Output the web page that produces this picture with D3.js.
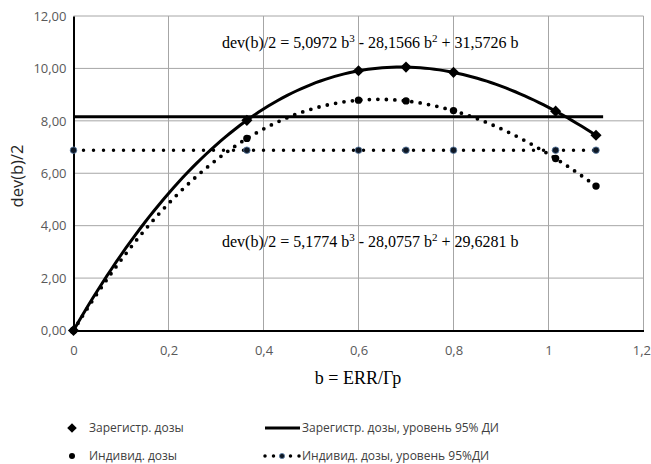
<!DOCTYPE html>
<html>
<head>
<meta charset="utf-8">
<script src="https://cdnjs.cloudflare.com/ajax/libs/d3/7.8.5/d3.min.js"></script>
<style>
  body { margin: 0; background: #fff; }
  .tick text { font-family: "Open Sans", sans-serif; font-size: 13px; fill: #595959; }
  .eq { font-family: "Liberation Serif", "Times New Roman", serif; font-size: 16px; fill: #000; }
  .legend text { font-family: "Open Sans", sans-serif; font-size: 12px; fill: #404040; }
</style>
</head>
<body>
<svg id="chart" width="651" height="464"></svg>
<script>
// doses, b = ERR/Gy
var bValues = [0, 0.365, 0.6, 0.7, 0.8, 1.015, 1.1];
var regDev = [0, 8.02, 9.91, 10.05, 9.85, 8.37, 7.45];   // registered doses
var indDev = [0, 7.33, 8.79, 8.76, 8.39, 6.56, 5.51];    // individual doses
// 95% CI levels
var regLevel = 8.16;
var indLevel = 6.88;
var regLevelX = [0, 1.115];
// cubic trend coefficients (b^3, b^2, b) as printed on the chart
var regCoef = [5.0972, -28.1566, 31.5726];
var indCoef = [5.1774, -28.0757, 29.6281];
var xTicks = [0, 0.2, 0.4, 0.6, 0.8, 1, 1.2];
var yTicks = [0, 2, 4, 6, 8, 10, 12];

var svg = d3.select("#chart");

var x = d3.scaleLinear().domain([0, 1.2]).range([73.5, 643.5]);
var y = d3.scaleLinear().domain([0, 12]).range([330.5, 16]);

// grid
svg.append("g")
  .selectAll("line")
  .data(yTicks.slice(1))
  .enter().append("line")
  .attr("x1", x(0)).attr("x2", x(1.2))
  .attr("y1", d => y(d)).attr("y2", d => y(d))
  .attr("stroke", "#a6a6a6").attr("stroke-width", 1);
svg.append("g")
  .selectAll("line")
  .data(xTicks.slice(1))
  .enter().append("line")
  .attr("x1", d => x(d)).attr("x2", d => x(d))
  .attr("y1", y(0)).attr("y2", y(12))
  .attr("stroke", "#a6a6a6").attr("stroke-width", 1);

// axes
var yAxis = svg.append("g")
  .attr("transform", "translate(" + x(0) + ",0)")
  .call(d3.axisLeft(y).tickValues(yTicks).tickSize(0).tickPadding(7)
    .tickFormat(d => d3.format(".2f")(d).replace(".", ",")));
yAxis.select(".domain").attr("stroke", "#000").attr("stroke-width", 2);

var xAxis = svg.append("g")
  .attr("transform", "translate(0," + y(0) + ")")
  .call(d3.axisBottom(x).tickValues(xTicks).tickSize(0).tickPadding(15)
    .tickFormat(d => String(+d.toFixed(1)).replace(".", ",")));
xAxis.select(".domain").attr("stroke", "#000").attr("stroke-width", 2);
// keep the last label inside the frame
xAxis.selectAll(".tick text").filter(d => d === 1.2)
  .attr("text-anchor", "end").attr("x", 7);

// axis titles
svg.append("text")
  .attr("transform", "translate(23,176) rotate(-90)")
  .attr("text-anchor", "middle")
  .style("font-family", "'Open Sans', sans-serif")
  .style("font-size", "16.5px")
  .attr("fill", "#262626")
  .text("dev(b)/2");

svg.append("text")
  .attr("x", 358).attr("y", 384)
  .attr("text-anchor", "middle")
  .attr("class", "eq")
  .style("font-size", "18px")
  .text("b = ERR/Гр");

// CI levels
svg.append("line")
  .attr("x1", x(regLevelX[0])).attr("x2", x(regLevelX[1]))
  .attr("y1", y(regLevel)).attr("y2", y(regLevel))
  .attr("stroke", "#000").attr("stroke-width", 3);

svg.append("line")
  .attr("x1", x(bValues[0])).attr("x2", x(bValues[bValues.length - 1]))
  .attr("y1", y(indLevel)).attr("y2", y(indLevel))
  .attr("stroke", "#000").attr("stroke-width", 3.5)
  .attr("stroke-linecap", "round")
  .attr("stroke-dasharray", "0,10");

// trend lines
function poly(c) { return b => c[0] * b * b * b + c[1] * b * b + c[2] * b; }
var bGrid = d3.range(0, 1.1 + 1e-9, 0.01);

svg.append("path")
  .datum(bGrid)
  .attr("fill", "none")
  .attr("stroke", "#000").attr("stroke-width", 3)
  .attr("d", d3.line().x(d => x(d)).y(d => y(poly(regCoef)(d))));

svg.append("path")
  .datum(bGrid)
  .attr("fill", "none")
  .attr("stroke", "#000").attr("stroke-width", 3.8)
  .attr("stroke-linecap", "round")
  .attr("stroke-dasharray", "0,8.5")
  .attr("d", d3.line().x(d => x(d)).y(d => y(poly(indCoef)(d))));

// markers
var square = d3.symbol().type(d3.symbolSquare).size(62);

svg.append("g")
  .selectAll("circle")
  .data(bValues)
  .enter().append("circle")
  .attr("cx", d => x(d)).attr("cy", y(indLevel))
  .attr("r", 3.3)
  .attr("fill", "#0e1724").attr("stroke", "#5a7ea6").attr("stroke-width", 0.8);

svg.append("g")
  .selectAll("circle")
  .data(bValues)
  .enter().append("circle")
  .attr("cx", d => x(d)).attr("cy", (d, i) => y(indDev[i]))
  .attr("r", 3.7)
  .attr("fill", "#000");

svg.append("g")
  .selectAll("path")
  .data(bValues)
  .enter().append("path")
  .attr("transform", (d, i) => "translate(" + x(d) + "," + y(regDev[i]) + ") rotate(45)")
  .attr("d", square)
  .attr("fill", "#000");

// equations
function equation(yPos, c) {
  var t = svg.append("text").attr("class", "eq").attr("x", 222).attr("y", yPos);
  var f = v => d3.format(".4f")(Math.abs(v)).replace(".", ",");
  t.append("tspan").text("dev(b)/2 = " + f(c[0]) + " b");
  t.append("tspan").attr("dy", -6).style("font-size", "11px").text("3");
  t.append("tspan").attr("dy", 6).text(" - " + f(c[1]) + " b");
  t.append("tspan").attr("dy", -6).style("font-size", "11px").text("2");
  t.append("tspan").attr("dy", 6).text(" + " + f(c[2]) + " b");
}
equation(48, regCoef);
equation(247, indCoef);

// legend
var leg = svg.append("g").attr("class", "legend");
leg.append("path")
  .attr("transform", "translate(72,428) rotate(45)")
  .attr("d", d3.symbol().type(d3.symbolSquare).size(46))
  .attr("fill", "#000");
leg.append("text").attr("x", 89).attr("y", 432).text("Зарегистр. дозы");
leg.append("circle").attr("cx", 72).attr("cy", 456).attr("r", 3).attr("fill", "#000");
leg.append("text").attr("x", 89).attr("y", 460).text("Индивид. дозы");

leg.append("line")
  .attr("x1", 265).attr("x2", 300).attr("y1", 428).attr("y2", 428)
  .attr("stroke", "#000").attr("stroke-width", 3);
leg.append("text").attr("x", 302).attr("y", 432).text("Зарегистр. дозы, уровень 95% ДИ");
leg.append("line")
  .attr("x1", 265).attr("x2", 300).attr("y1", 456).attr("y2", 456)
  .attr("stroke", "#000").attr("stroke-width", 3.5)
  .attr("stroke-linecap", "round").attr("stroke-dasharray", "0,8.5");
leg.append("circle").attr("cx", 282).attr("cy", 456).attr("r", 2.6)
  .attr("fill", "#0e1724").attr("stroke", "#5a7ea6").attr("stroke-width", 0.8);
leg.append("text").attr("x", 302).attr("y", 460).text("Индивид. дозы, уровень 95%ДИ");
</script>
</body>
</html>
